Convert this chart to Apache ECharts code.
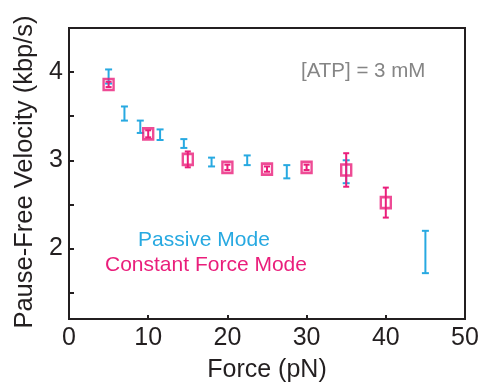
<!DOCTYPE html>
<html><head><meta charset="utf-8">
<script src="https://cdn.jsdelivr.net/npm/echarts@6/dist/echarts.min.js"></script>
<style>html,body{margin:0;padding:0;background:#fff}#c{width:482px;height:388px}</style>
</head><body><div id="c"></div>
<script>
// Passive mode (blue)
const passiveForce = [5, 7, 9, 11.5, 14.5, 18, 22.5, 27.5, 35, 45];
const passiveVel   = [3.95, 3.53, 3.38, 3.29, 3.19, 2.98, 3.00, 2.87, 2.87, 1.96];
const passiveErr   = [0.08, 0.08, 0.07, 0.06, 0.05, 0.05, 0.055, 0.075, 0.13, 0.24];
// Constant force mode (pink)
const cfForce = [5, 10, 15, 20, 25, 30, 35, 40];
const cfVel   = [3.86, 3.30, 3.01, 2.92, 2.90, 2.92, 2.89, 2.52];
const cfErr   = [0.03, 0.04, 0.09, 0.03, 0.03, 0.03, 0.19, 0.17];
// Axis ticks
const yLabelValues = [2, 3, 4];
const yTickValues = [1.5, 2, 2.5, 3, 3.5, 4];

const BLUE = '#27a9e1';
const PINK = '#ea1e7b';
const INK = '#231f20';
const FONT = "'Liberation Sans', Arial, Helvetica, sans-serif";

function errRender(color, capHalf, lw) {
  return function (params, api) {
    const x = api.value(0), y = api.value(1), e = api.value(2);
    const t = api.coord([x, y + e]);
    const b = api.coord([x, y - e]);
    const st = { stroke: color, lineWidth: lw };
    return { type: 'group', children: [
      { type: 'line', shape: { x1: t[0], y1: t[1], x2: b[0], y2: b[1] }, style: st },
      { type: 'line', shape: { x1: t[0] - capHalf, y1: t[1], x2: t[0] + capHalf, y2: t[1] }, style: st },
      { type: 'line', shape: { x1: b[0] - capHalf, y1: b[1], x2: b[0] + capHalf, y2: b[1] }, style: st }
    ]};
  };
}

const passiveData = passiveForce.map((f, i) => [f, passiveVel[i], passiveErr[i]]);
const cfErrData = cfForce.map((f, i) => [f, cfVel[i], cfErr[i]]);
const cfPts = cfForce.map((f, i) => [f, cfVel[i]]);

const chart = echarts.init(document.getElementById('c'), null, { renderer: 'canvas' });
chart.setOption({
  animation: false,
  backgroundColor: '#fff',
  grid: { left: 69, right: 17, top: 28, bottom: 63, show: true, borderColor: INK, borderWidth: 2, backgroundColor: 'transparent' },
  xAxis: {
    type: 'value', min: 0, max: 50, interval: 10,
    name: 'Force (pN)', nameLocation: 'middle', nameGap: 39,
    nameTextStyle: { fontSize: 25, color: INK, fontFamily: FONT },
    axisLine: { show: true, lineStyle: { color: INK, width: 2 } },
    axisTick: { show: true, inside: true, length: 4, lineStyle: { color: INK, width: 2 } },
    axisLabel: { fontSize: 25, color: INK, fontFamily: FONT, margin: 7 },
    splitLine: { show: false }
  },
  yAxis: {
    type: 'value', min: 1.2, max: 4.5,
    axisLine: { show: true, lineStyle: { color: INK, width: 2 } },
    axisTick: { show: true, inside: true, length: 5, customValues: yTickValues, lineStyle: { color: INK, width: 2 } },
    axisLabel: { fontSize: 25, color: INK, fontFamily: FONT, margin: 6, customValues: yLabelValues },
    splitLine: { show: false }
  },
  series: [
    { name: 'Passive Mode', type: 'custom', renderItem: errRender(BLUE, 3.5, 2), data: passiveData, z: 2 },
    { name: 'Constant Force Mode err', type: 'custom', renderItem: errRender(PINK, 3, 2), data: cfErrData, z: 3 },
    { name: 'Constant Force Mode', type: 'scatter', data: cfPts, symbol: 'rect', symbolSize: [10, 11],
      itemStyle: { color: 'rgba(255,255,255,0)', borderColor: PINK, borderWidth: 2.5 }, z: 4 }
  ],
  graphic: [
    { type: 'text', x: 25, y: 172, rotation: Math.PI / 2,
      style: { text: 'Pause-Free Velocity (kbp/s)', fontSize: 25.5, fill: INK, fontFamily: FONT, align: 'center', verticalAlign: 'middle' } },
    { type: 'text', left: 301, top: 61, style: { text: '[ATP] = 3 mM', fontSize: 20.5, fill: '#858585', fontFamily: FONT } },
    { type: 'text', left: 138, top: 230, style: { text: 'Passive Mode', fontSize: 21, fill: BLUE, fontFamily: FONT } },
    { type: 'text', left: 105, top: 255, style: { text: 'Constant Force Mode', fontSize: 21, fill: PINK, fontFamily: FONT } }
  ]
});
</script></body></html>
